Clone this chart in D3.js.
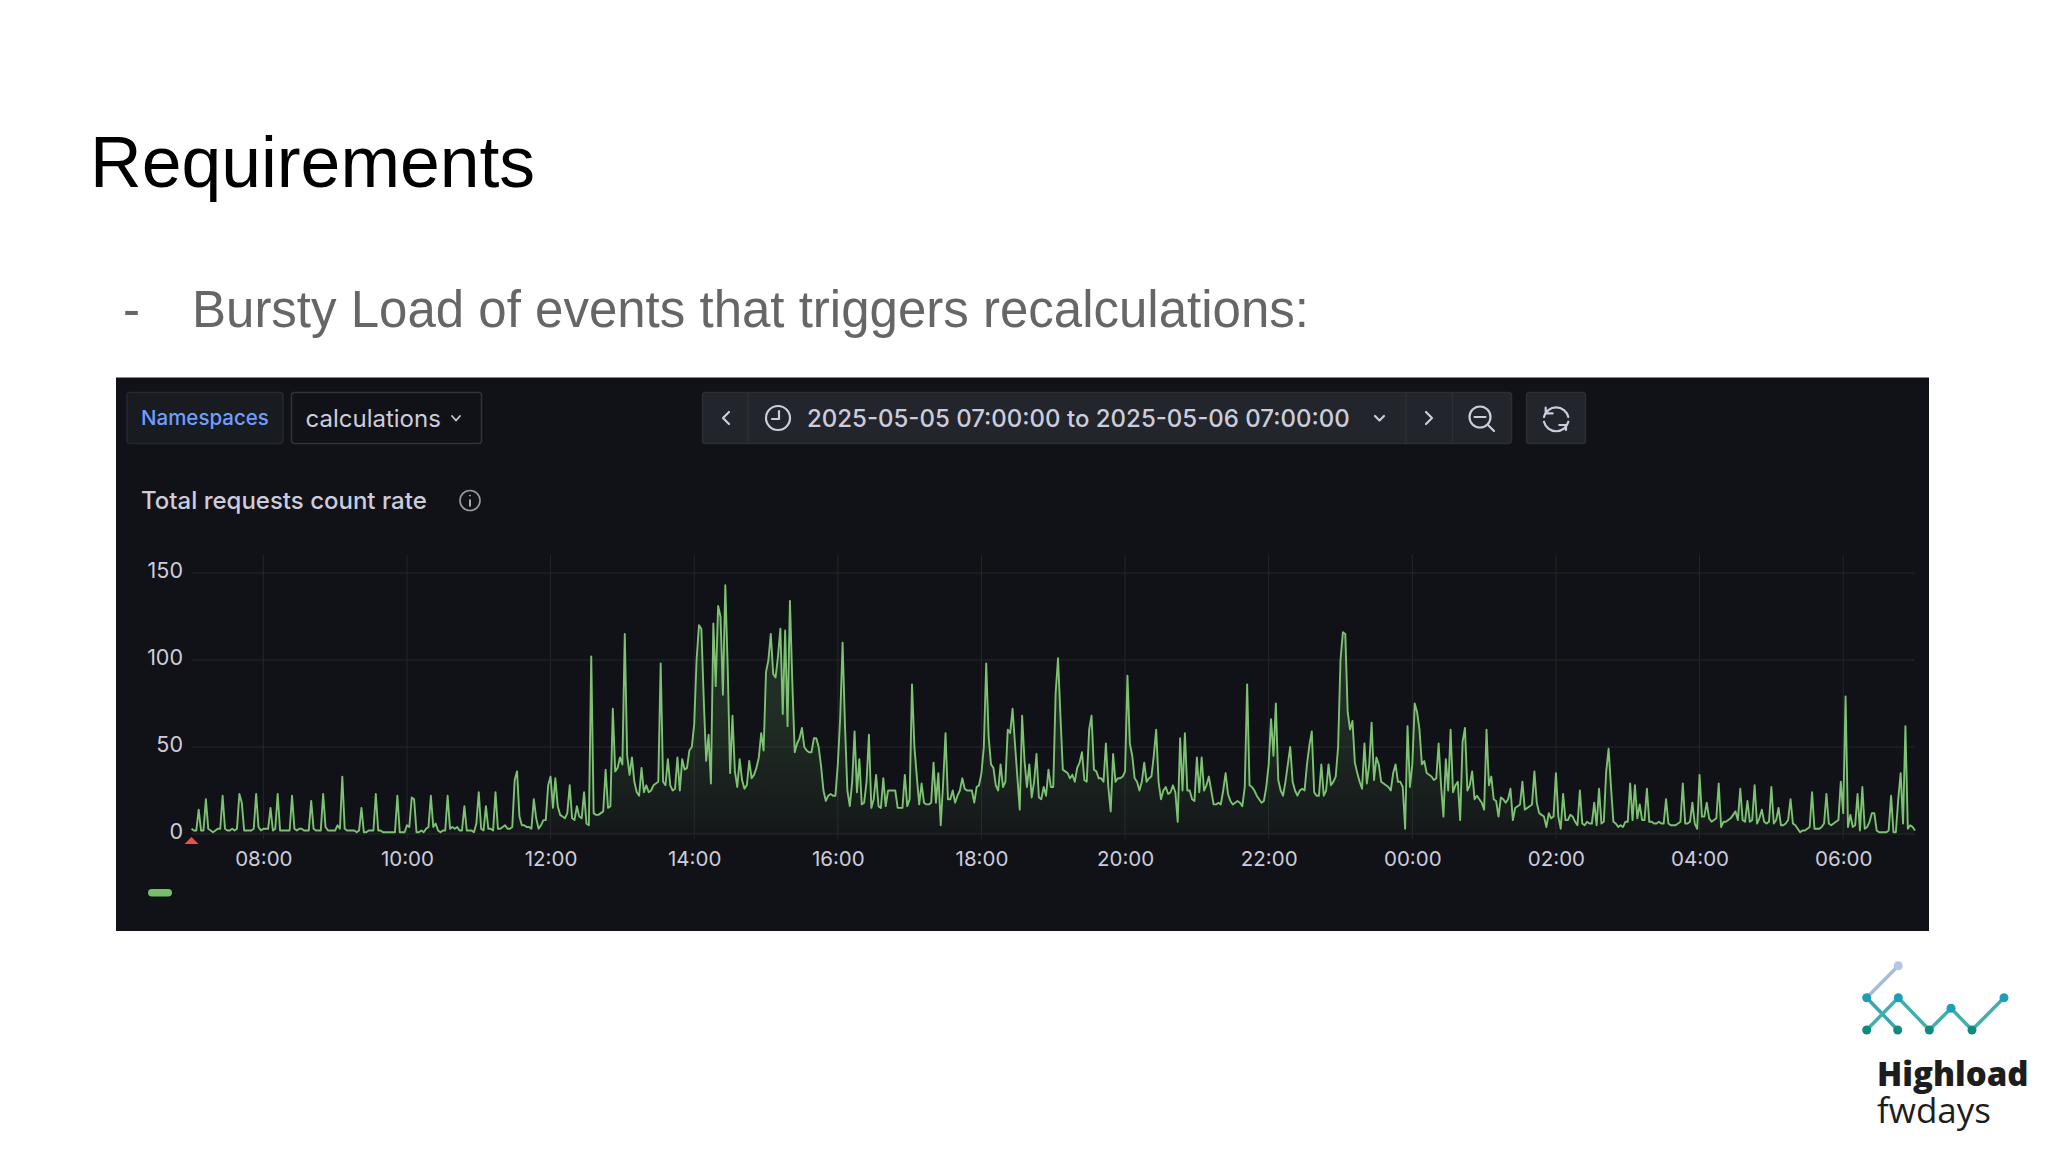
<!DOCTYPE html>
<html>
<head>
<meta charset="utf-8">
<script src="https://cdn.jsdelivr.net/npm/d3@7"></script>
<style>
  html, body { margin: 0; background: #fff; }
  svg { display: block; }
</style>
</head>
<body>
<div id="chart"></div>
<script>
// Total requests count rate. One row per hour, one value every 2 minutes.
const requestRate = [
  3,2,2,14,2,2,20,3,2,1,2,3,3,22,3,2,2,3,2,3,23,18,2,2,2,2,3,23,4,2,
  3,3,3,15,2,3,23,2,2,2,2,2,22,3,2,3,3,2,2,2,19,3,2,2,2,23,4,2,2,2,
  2,5,3,33,3,2,2,2,2,1,2,15,1,1,2,2,2,23,2,2,1,1,1,1,1,1,22,1,1,1,
  5,4,21,20,1,1,2,1,3,4,22,4,6,2,1,2,2,22,3,4,3,4,2,2,16,2,2,2,1,6,
  24,3,2,16,3,3,2,24,3,3,4,5,3,3,4,31,36,10,5,5,4,4,3,20,9,3,5,8,8,28,
  33,15,32,16,11,10,9,12,28,9,8,16,10,9,24,6,5,102,12,11,11,12,13,37,15,16,72,36,38,44,
  40,115,45,34,44,30,24,22,38,24,28,24,25,28,29,30,98,30,28,43,28,25,26,44,25,43,37,38,48,50,
  63,100,120,118,77,42,57,29,121,85,131,125,80,143,96,35,68,36,27,43,31,26,28,42,32,34,38,44,58,48,
  93,100,115,92,90,102,118,69,117,62,134,87,47,52,55,61,50,48,47,47,55,55,50,39,25,19,22,23,22,22,
  40,67,110,62,25,16,30,59,24,43,17,18,30,57,15,20,34,16,15,32,16,25,25,25,25,15,15,15,34,16,
  20,86,50,33,17,29,18,17,17,18,41,18,35,5,29,58,20,20,25,18,22,25,32,26,25,25,25,18,27,28,
  35,50,98,56,40,38,28,25,40,27,30,60,58,72,52,33,14,68,42,27,40,21,30,46,21,20,27,22,37,27,
  27,81,101,68,37,36,35,32,34,30,38,41,47,31,30,60,68,37,36,32,32,30,52,27,13,46,30,32,32,33,
  36,91,52,45,32,30,25,30,41,30,32,33,45,60,30,20,25,27,23,24,28,24,7,55,25,58,25,25,20,19,
  44,24,44,25,28,33,25,17,17,18,17,25,35,23,19,17,18,19,18,16,27,86,28,27,25,22,20,18,19,27,
  40,66,45,75,31,25,22,30,40,50,30,25,22,25,26,25,40,51,59,24,22,22,40,22,25,40,28,30,33,50,
  100,116,115,70,60,65,41,35,30,26,52,29,40,64,31,44,40,30,29,28,27,25,35,40,30,30,27,3,62,27,
  40,75,70,60,40,42,35,34,33,31,32,52,28,10,43,25,60,24,28,30,8,53,61,25,28,36,20,22,20,18,
  14,60,28,33,20,19,10,21,20,18,20,26,8,15,16,17,30,14,15,16,17,36,18,12,11,10,4,12,9,10,
  35,10,3,23,8,8,11,10,7,5,25,6,5,7,6,6,18,5,26,6,7,36,49,27,7,6,4,5,4,7,
  7,29,8,28,9,17,8,8,26,7,7,6,6,7,6,6,20,6,5,5,5,6,7,29,6,6,7,18,6,3,
  34,10,10,18,9,7,8,9,29,4,7,7,8,9,11,13,8,26,8,7,19,7,8,28,6,9,14,7,6,7,
  27,6,8,15,5,5,6,8,20,6,5,3,1,2,2,3,4,24,3,3,3,4,6,23,6,5,6,7,8,30,
  12,79,4,11,4,5,23,2,27,3,4,7,12,12,2,1,1,1,1,2,22,1,1,20,35,6,62,3,5,4,2
];

const startTime   = Date.UTC(2025, 4, 5, 7);
const endTime     = Date.UTC(2025, 4, 6, 7);
const stepMs      = 2 * 60 * 1000;
const yTicks      = [0, 50, 100, 150];

const slideTitle  = "Requirements";
const bulletText  = "Bursty Load of events that triggers recalculations:";
const panelTitle  = "Total requests count rate";
const filterLabel = "Namespaces";
const filterValue = "calculations";
const timeRange   = "2025-05-05 07:00:00 to 2025-05-06 07:00:00";

const uiFont    = "Inter, 'Noto Sans', sans-serif";
const slideFont = "'Liberation Sans', Arial, sans-serif";
const uiText    = "#ccccdc";
const green     = "#73bf69";

const svg = d3.select("#chart").append("svg")
  .attr("width", 2048)
  .attr("height", 1152);

function label(parent, x, y, text, size, fill, font, extra) {
  const t = parent.append("text")
    .attr("x", x)
    .attr("y", y)
    .attr("font-family", font)
    .attr("font-size", size)
    .attr("fill", fill)
    .text(text);
  Object.entries(extra || {}).forEach(([k, v]) => t.attr(k, v));
  return t;
}

// slide text
label(svg, 90, 187, slideTitle, 71.5, "#000000", slideFont);
label(svg, 123, 327, "-", 51, "#666666", slideFont);
label(svg, 192, 327, bulletText, 51, "#666666", slideFont);

// grafana panel
svg.append("rect")
  .attr("x", 116).attr("y", 377.5)
  .attr("width", 1813).attr("height", 553.5)
  .attr("fill", "#111217");

function box(x0, x1, fill, stroke) {
  svg.append("rect")
    .attr("x", x0 + 0.5).attr("y", 392.5)
    .attr("width", x1 - x0 - 1).attr("height", 51)
    .attr("rx", 3)
    .attr("fill", fill)
    .attr("stroke", stroke)
    .attr("stroke-width", 1.5);
}

function icon(d, width) {
  svg.append("path")
    .attr("d", d)
    .attr("fill", "none")
    .attr("stroke", uiText)
    .attr("stroke-width", width || 2.2)
    .attr("stroke-linecap", "round")
    .attr("stroke-linejoin", "round");
}

box(126.5, 283.5, "#181b1f", "#25282d");
box(291, 482, "#111217", "#2f3238");
box(702, 1512, "#22252b", "#2a2d33");
box(1526, 1586, "#22252b", "#2a2d33");

[748, 1406, 1452.5].forEach(x => {
  svg.append("line")
    .attr("x1", x).attr("x2", x)
    .attr("y1", 392).attr("y2", 444)
    .attr("stroke", "#2c2f35")
    .attr("stroke-width", 1.5);
});

label(svg, 141, 425, filterLabel, 20.5, "#6e9fff", uiFont, { "font-weight": 500 });
label(svg, 305.5, 427, filterValue, 24, uiText, uiFont);
label(svg, 807, 427, timeRange, 24, uiText, uiFont, { "font-weight": 500 });
label(svg, 141, 509, panelTitle, 24, uiText, uiFont, { "font-weight": 500 });

// toolbar glyphs
icon("M452 416 L456 420.5 L460 416", 1.8);
icon("M729 412 L723 418 L729 424");
icon("M1375 416 L1379.5 420.5 L1384 416");
icon("M1426 412 L1432 418 L1426 424");
svg.append("circle").attr("cx", 778).attr("cy", 418).attr("r", 12)
  .attr("fill", "none").attr("stroke", uiText).attr("stroke-width", 2.2);
icon("M779 411 L779 419 L772 419");
svg.append("circle").attr("cx", 1480).attr("cy", 417).attr("r", 10.5)
  .attr("fill", "none").attr("stroke", uiText).attr("stroke-width", 2.2);
icon("M1474.5 417 L1485.5 417 M1488 425 L1494 431");
icon("M1544 417 A12.5 12.5 0 0 1 1568.3 417 M1545.7 407.7 L1545.7 413.3 L1552.7 413.3");
icon("M1568.3 421.7 A12.5 12.5 0 0 1 1544 421.7 M1566 430 L1566 425 L1559.3 425");
svg.append("circle").attr("cx", 470).attr("cy", 500.5).attr("r", 10)
  .attr("fill", "none").attr("stroke", "#9a9aa6").attr("stroke-width", 1.6);
icon("M470 500 L470 506 M470 495.5 L470 495.6", 1.6);

// chart
const xScale = d3.scaleUtc()
  .domain([startTime, endTime])
  .range([191.5, 1915]);

const yScale = d3.scaleLinear()
  .domain([0, 150])
  .range([834, 573]);

const gridColor = "#24262b";

svg.append("g")
  .selectAll("line")
  .data(yTicks)
  .join("line")
  .attr("x1", 191.5).attr("x2", 1915)
  .attr("y1", d => yScale(d)).attr("y2", d => yScale(d))
  .attr("stroke", gridColor);

svg.append("g")
  .selectAll("line")
  .data(xScale.ticks(d3.utcHour.every(2)))
  .join("line")
  .attr("x1", d => xScale(d)).attr("x2", d => xScale(d))
  .attr("y1", 555).attr("y2", 839)
  .attr("stroke", gridColor);

svg.append("g")
  .attr("transform", "translate(183, 0)")
  .call(d3.axisLeft(yScale).tickValues(yTicks).tickSize(0).tickPadding(0))
  .call(axis => axis.select(".domain").remove())
  .call(axis => axis.selectAll(".tick text")
    .attr("fill", uiText)
    .attr("font-family", uiFont)
    .attr("font-size", 21.5)
    .attr("dy", "0.22em"));

svg.append("g")
  .attr("transform", "translate(0, 834)")
  .call(d3.axisBottom(xScale)
    .ticks(d3.utcHour.every(2))
    .tickFormat(d3.utcFormat("%H:%M"))
    .tickSize(0)
    .tickPadding(17))
  .call(axis => axis.select(".domain").remove())
  .call(axis => axis.selectAll(".tick text")
    .attr("fill", uiText)
    .attr("font-family", uiFont)
    .attr("font-size", 20.5));

const defs = svg.append("defs");
const gradient = defs.append("linearGradient")
  .attr("id", "areaFill")
  .attr("gradientUnits", "userSpaceOnUse")
  .attr("x1", 0).attr("x2", 0)
  .attr("y1", yScale(70)).attr("y2", yScale(0));
gradient.append("stop").attr("offset", 0).attr("stop-color", green).attr("stop-opacity", 0.16);
gradient.append("stop").attr("offset", 1).attr("stop-color", green).attr("stop-opacity", 0.03);

const xOf = (d, i) => xScale(startTime + i * stepMs);

svg.append("path")
  .datum(requestRate)
  .attr("fill", "url(#areaFill)")
  .attr("d", d3.area().x(xOf).y0(yScale(0)).y1(d => yScale(d)));

svg.append("path")
  .datum(requestRate)
  .attr("fill", "none")
  .attr("stroke", "#7cc272")
  .attr("stroke-width", 1.9)
  .attr("stroke-linejoin", "round")
  .attr("d", d3.line().x(xOf).y(d => yScale(d)));

// red annotation marker at range start, and the unnamed legend swatch
svg.append("path")
  .attr("d", "M191.5 837 L198.5 844 L184.5 844 Z")
  .attr("fill", "#e5534f");

svg.append("rect")
  .attr("x", 148).attr("y", 889)
  .attr("width", 24).attr("height", 7.5)
  .attr("rx", 3.7)
  .attr("fill", green);

// conference logo
const logoUp   = [[1898.3, 965.7], [1866.7, 997.7], [1897.7, 1030]];
const logoWave = [[1866.7, 1030], [1898.3, 997.7], [1929.3, 1030], [1951, 1008.3], [1972, 1030], [2004, 997.7]];

const logoLine = d3.line();
svg.append("path")
  .attr("d", logoLine(logoUp.slice(0, 2)))
  .attr("fill", "none").attr("stroke", "#a3bcdc").attr("stroke-width", 3.5);
svg.append("path")
  .attr("d", logoLine(logoUp.slice(1)))
  .attr("fill", "none").attr("stroke", "#3aa7ae").attr("stroke-width", 3.5);
svg.append("path")
  .attr("d", logoLine(logoWave))
  .attr("fill", "none").attr("stroke", "#3fb0aa").attr("stroke-width", 3.5);

const logoDots = [
  [logoUp[0], "#b4c6e6"], [logoUp[1], "#1f9eb8"], [logoUp[2], "#0f8a80"],
  [logoWave[0], "#0f8a80"], [logoWave[1], "#1f9eb8"], [logoWave[2], "#0f8a80"],
  [logoWave[3], "#1f9eb8"], [logoWave[4], "#0f8a80"], [logoWave[5], "#1f9eb8"]
];
svg.append("g")
  .selectAll("circle")
  .data(logoDots)
  .join("circle")
  .attr("cx", d => d[0][0])
  .attr("cy", d => d[0][1])
  .attr("r", 4.5)
  .attr("fill", d => d[1]);

label(svg, 1877, 1086, "Highload", 33, "#1d1d1d", "'Open Sans', 'Noto Sans', sans-serif", { "font-weight": 800 });
label(svg, 1877, 1123, "fwdays", 35, "#1d1d1d", "'Open Sans', 'Noto Sans', sans-serif");
</script>
</body>
</html>
